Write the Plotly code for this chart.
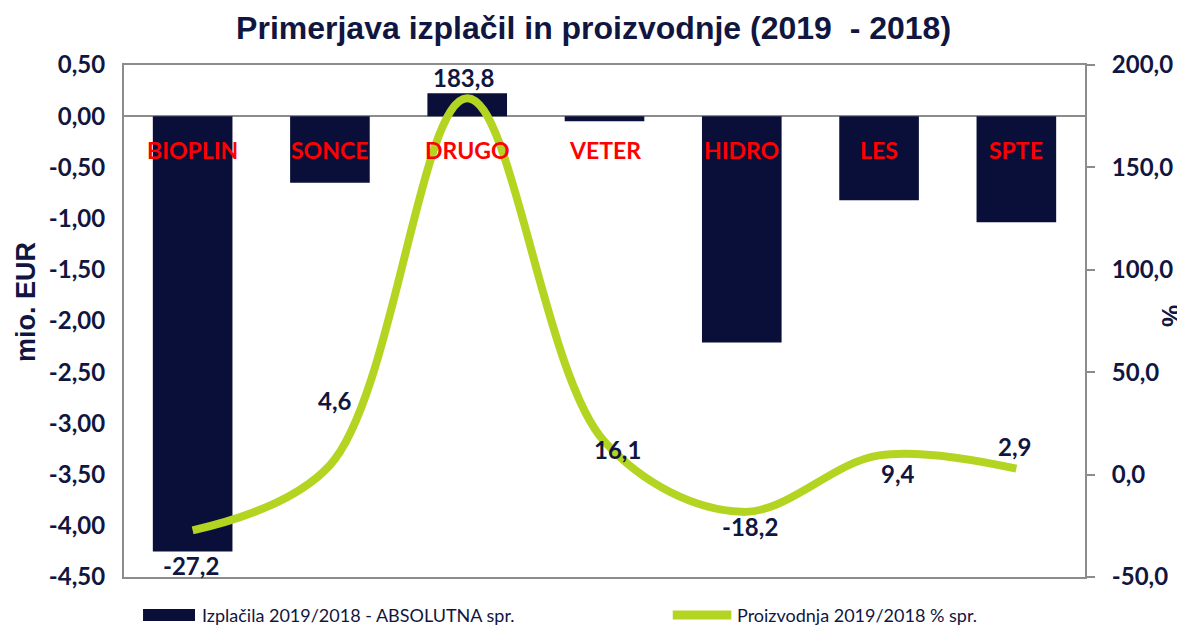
import plotly.graph_objects as go

categories = ["BIOPLIN", "SONCE", "DRUGO", "VETER", "HIDRO", "LES", "SPTE"]
izplacila = [-4.25, -0.65, 0.225, -0.05, -2.21, -0.82, -1.035]
proizvodnja = [-27.2, 4.6, 183.8, 16.1, -18.2, 9.4, 2.9]
line_labels = ["-27,2", "4,6", "183,8", "16,1", "-18,2", "9,4", "2,9"]
series_names = ["Izplačila 2019/2018 - ABSOLUTNA spr.", "Proizvodnja 2019/2018 % spr."]

y1_tickvals = [0.5, 0.0, -0.5, -1.0, -1.5, -2.0, -2.5, -3.0, -3.5, -4.0, -4.5]
y1_ticktext = ["0,50", "0,00", "-0,50", "-1,00", "-1,50", "-2,00", "-2,50", "-3,00", "-3,50", "-4,00", "-4,50"]
y2_tickvals = [200, 150, 100, 50, 0, -50]
y2_ticktext = ["200,0", "150,0", "100,0", "50,0", "0,0", "-50,0"]

# label offsets in pixels (style only)
lab_dx = [-2, 5, -4, 13, 8, 19, -2]
lab_dy = [-35, 65, 21, -8, -15, -18, 22]

NAVY = "#0a0f3a"
TXT = "#111640"
LIME = "#b3d521"
GRAY = "#8c8c8c"

fig = go.Figure()
fig.add_trace(go.Bar(
    x=categories, y=izplacila, name=series_names[0],
    marker=dict(color=NAVY, line=dict(width=0)), width=0.58, yaxis="y", showlegend=False,
))
fig.add_trace(go.Scatter(
    x=categories, y=proizvodnja, name=series_names[1],
    mode="lines", line=dict(color=LIME, width=8, shape="spline", smoothing=1.0),
    yaxis="y2", showlegend=False,
))

annotations = []
for c in categories:
    annotations.append(dict(x=c, y=-0.33, xref="x", yref="y", text=c, showarrow=False,
                            font=dict(family="Lato", size=23, color="#ff0000", weight="bold")))
for c, v, t, dx, dy in zip(categories, proizvodnja, line_labels, lab_dx, lab_dy):
    annotations.append(dict(x=c, y=v, xref="x", yref="y2", text=t, showarrow=False,
                            xshift=dx, yshift=dy,
                            font=dict(family="Lato", size=24, color=TXT, weight="bold")))
# axis titles
annotations.append(dict(x=-0.102, y=0.537, xref="paper", yref="paper", text="mio. EUR",
                        textangle=-90, showarrow=False, xanchor="center", yanchor="middle",
                        font=dict(family="Liberation Sans", size=27, color=TXT, weight="bold")))
annotations.append(dict(x=1.0895, y=0.51, xref="paper", yref="paper", text="%",
                        textangle=-90, showarrow=False, xanchor="center", yanchor="middle",
                        font=dict(family="Liberation Sans", size=25, color=TXT, weight="bold")))
# legend texts
annotations.append(dict(x=0.0791, y=-0.0742, xref="paper", yref="paper", text=series_names[0],
                        showarrow=False, xanchor="left", yanchor="middle",
                        font=dict(family="Lato", size=18, color=TXT)))
annotations.append(dict(x=0.6358, y=-0.0742, xref="paper", yref="paper", text=series_names[1],
                        showarrow=False, xanchor="left", yanchor="middle",
                        font=dict(family="Lato", size=18, color=TXT)))

shapes = [
    dict(type="rect", xref="paper", yref="paper", x0=0.0198, x1=0.0739, y0=-0.0859, y1=-0.0625,
         fillcolor=NAVY, line=dict(width=0)),
    dict(type="line", xref="paper", yref="paper", x0=0.5710, x1=0.6320, y0=-0.0742, y1=-0.0742,
         line=dict(color=LIME, width=9)),
]

fig.update_layout(
    width=1177, height=620,
    margin=dict(l=116, r=100, t=57, b=51, autoexpand=False),
    paper_bgcolor="white", plot_bgcolor="white",
    title=dict(text="Primerjava izplačil in proizvodnje (2019  - 2018)", x=0.4975, xanchor="center",
               y=0.968, yanchor="middle",
               font=dict(family="Liberation Sans", size=32, color=TXT, weight="bold")),
    showlegend=False,
    xaxis=dict(showline=True, linecolor=GRAY, linewidth=2, mirror=True, showticklabels=False,
               ticks="", showgrid=False),
    yaxis=dict(range=[-4.5, 0.5], tickvals=y1_tickvals, ticktext=y1_ticktext, showgrid=False,
               showline=True, linecolor=GRAY, linewidth=2, zeroline=True, zerolinecolor=GRAY,
               zerolinewidth=2, ticks="", ticklabelstandoff=12,
               tickfont=dict(family="Lato", size=24, color=TXT, weight="bold")),
    yaxis2=dict(range=[-50, 200], tickvals=y2_tickvals, ticktext=y2_ticktext, overlaying="y", side="right",
                showgrid=False, showline=True, linecolor=GRAY, linewidth=2, zeroline=False,
                ticks="outside", ticklen=8, tickcolor=GRAY, tickwidth=2, ticklabelstandoff=12,
                tickfont=dict(family="Lato", size=24, color=TXT, weight="bold")),
    annotations=annotations,
    shapes=shapes,
)

fig.write_html("out.html")
